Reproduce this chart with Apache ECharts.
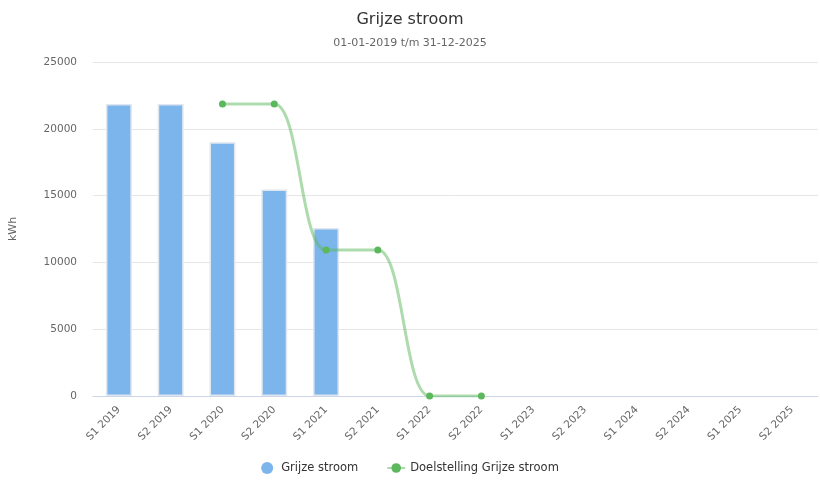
<!DOCTYPE html>
<html><head><meta charset="utf-8">
<script src="https://cdn.jsdelivr.net/npm/echarts@6/dist/echarts.min.js"></script>
<style>html,body{margin:0;padding:0;background:#fff}#c{width:820px;height:482px}</style>
</head><body><div id="c"></div>
<script>
const categories = ['S1 2019','S2 2019','S1 2020','S2 2020','S1 2021','S2 2021','S1 2022','S2 2022','S1 2023','S2 2023','S1 2024','S2 2024','S1 2025','S2 2025'];
const grijzeStroom = [21850, 21850, 19000, 15450, 12580, null, null, null, null, null, null, null, null, null];
const doelstelling = [null, null, 21850, 21850, 10925, 10925, 0, 0, null, null, null, null, null, null];
const yTicks = [0, 5000, 10000, 15000, 20000, 25000];

const FONT = 'DejaVu Sans';
const chart = echarts.init(document.getElementById('c'));
chart.setOption({
  animation: false,
  textStyle: {fontFamily: FONT},
  title: {
    text: 'Grijze stroom',
    subtext: '01-01-2019 t/m 31-12-2025',
    left: 'center', top: 7, itemGap: 10,
    textStyle: {fontFamily: FONT, fontSize: 16, fontWeight: 'normal', color: '#333'},
    subtextStyle: {fontFamily: FONT, fontSize: 11, color: '#666'}
  },
  grid: {left: 92, right: 2, top: 62, bottom: 86, containLabel: false},
  legend: {
    bottom: 3, left: 'center', itemGap: 28, itemWidth: 18, itemHeight: 12,
    textStyle: {fontFamily: FONT, fontSize: 11.5, color: '#333'},
    data: [{name: 'Grijze stroom', icon: 'circle', itemStyle: {borderWidth: 0}}, {name: 'Doelstelling Grijze stroom'}]
  },
  xAxis: {
    type: 'category', data: categories,
    axisLine: {lineStyle: {color: '#ccd6eb'}},
    axisTick: {show: false},
    axisLabel: {rotate: 45, color: '#666', fontSize: 10.5, fontFamily: FONT, interval: 0, margin: 12}
  },
  yAxis: {
    type: 'value', min: 0, max: 25000, interval: 5000,
    name: 'kWh', nameLocation: 'middle', nameGap: 74, nameRotate: 90,
    nameTextStyle: {color: '#666', fontSize: 11, fontFamily: FONT},
    axisLabel: {color: '#666', fontSize: 10.5, fontFamily: FONT, margin: 16,
      formatter: v => yTicks.includes(v) ? String(v) : ''},
    splitLine: {lineStyle: {color: '#e6e6e6'}},
    axisLine: {show: false}, axisTick: {show: false}
  },
  series: [
    {
      name: 'Grijze stroom', type: 'bar', data: grijzeStroom, barWidth: '50%',
      itemStyle: {color: '#7cb5ec', borderColor: '#dfe6ef', borderWidth: 1.5}
    },
    {
      name: 'Doelstelling Grijze stroom', type: 'line', data: doelstelling,
      smooth: 0.5, smoothMonotone: 'x', connectNulls: false,
      symbol: 'circle', symbolSize: 7,
      itemStyle: {color: '#5cb85c'},
      lineStyle: {color: 'rgba(92,184,92,0.5)', width: 3}
    }
  ]
});
</script></body></html>
